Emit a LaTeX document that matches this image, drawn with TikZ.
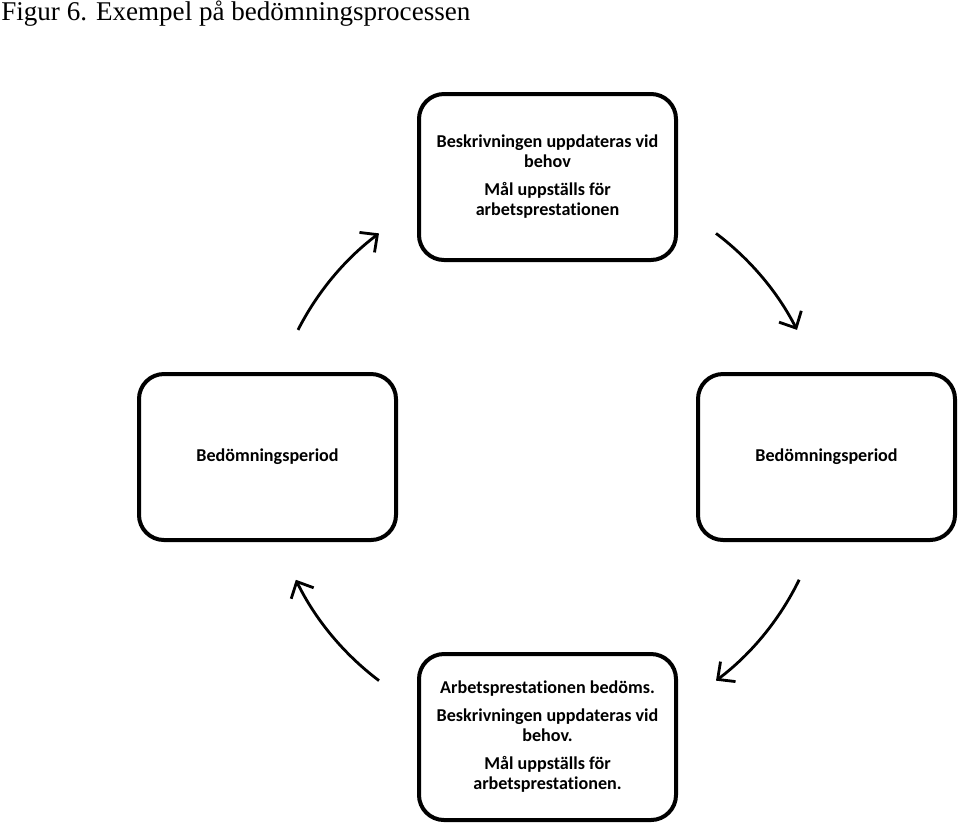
\documentclass[tikz,border=0pt]{standalone}
\usepackage{fontspec}
\setmainfont{Liberation Serif}
\newfontfamily\rutafont[Ligatures=NoCommon]{Carlito}
\usetikzlibrary{arrows.meta}
\tikzset{
  ruta/.style={rectangle, rounded corners=0.5cm, draw=black, line width=0.08cm,
    fill=white, minimum width=5.14cm, minimum height=3.32cm, align=center,
    font=\rutafont\bfseries\fontsize{10.3}{11.4}\selectfont},
  pil/.style={-{Straight Barb[length=2.6mm,width=5mm,line width=1.6pt]}, line width=1.6pt, black},
}
\begin{document}
\begin{tikzpicture}
    \useasboundingbox (0,0) rectangle (19.2,-16.5);
    \node[anchor=base west, inner sep=0pt, font=\fontsize{15.4}{17}\selectfont] (titel) at (0.02,-0.41)
      {Figur 6. Exempel på bedömningsprocessen};
    \coordinate (mitt) at (10.95,-9.14);
    \node[ruta] (topp) at (10.95,-3.54)
      {Beskrivningen uppdateras vid\\behov\\[4.5pt]Mål uppställs för\\arbetsprestationen};
    \node[ruta] (hoger) at (16.53,-9.14) {Bedömningsperiod};
    \node[ruta] (botten) at (10.95,-14.74)
      {Arbetsprestationen bedöms.\\[4.5pt]Beskrivningen uppdateras vid\\behov.\\[4.5pt]Mål uppställs för\\arbetsprestationen.};
    \node[ruta] (vanster) at (5.35,-9.14) {Bedömningsperiod};
    \foreach \a/\b in {153/127, 53/27, -26/-53, -127/-154}{
      \draw[pil] ([shift={(\a:5.6)}]mitt) arc[start angle=\a, end angle=\b, radius=5.6];}
  \end{tikzpicture}
\end{document}
